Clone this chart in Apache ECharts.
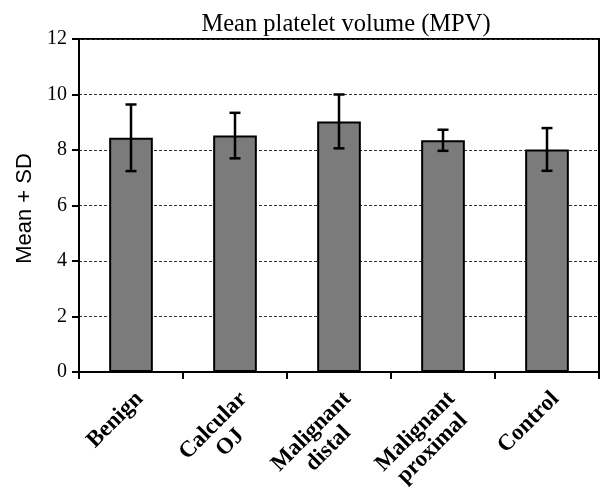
<!DOCTYPE html>
<html><head><meta charset="utf-8">
<script src="https://cdn.jsdelivr.net/npm/echarts@6/dist/echarts.min.js"></script>
<style>html,body{margin:0;padding:0;background:#fff}#c{width:604px;height:487px}</style>
</head><body><div id="c"></div>
<script>
var categories = ['Benign', 'Calcular\nOJ', 'Malignant\ndistal', 'Malignant\nproximal', 'Control'];
var means = [8.44, 8.52, 9.03, 8.35, 8.02];
var sds = [1.2, 0.82, 0.97, 0.38, 0.77];
var yTicks = [0, 2, 4, 6, 8, 10, 12];

var labelFont = 'bold 23px "Liberation Serif"';
var ctx = document.createElement('canvas').getContext('2d');
ctx.font = labelFont;
// each label is centred line by line, then shifted so its right edge sits at the tick
var xData = categories.map(function (c) {
  var w = Math.max.apply(null, c.split('\n').map(function (s) { return ctx.measureText(s).width; }));
  return { value: c, textStyle: { align: 'center', verticalAlign: 'top', padding: [0, w, 0, 0] } };
});

var chart = echarts.init(document.getElementById('c'));
var errData = means.map(function (m, i) { return [i, m - sds[i], m + sds[i]]; });
chart.setOption({
  animation: false,
  title: {
    text: 'Mean platelet volume (MPV)', left: 341, top: 7, textAlign: 'center',
    textStyle: { fontFamily: 'Liberation Serif', fontSize: 24.5, fontWeight: 'normal', color: '#000' }
  },
  grid: { left: 79, right: 5, top: 39, bottom: 115, outerBoundsMode: 'none', containLabel: false,
    show: true, borderColor: '#000', borderWidth: 2, backgroundColor: 'transparent' },
  xAxis: {
    type: 'category', data: xData,
    axisLine: { lineStyle: { color: '#000', width: 2 } },
    axisTick: { show: true, length: 7, lineStyle: { color: '#000', width: 2 } },
    axisLabel: { rotate: 45, interval: 0, margin: 15, hideOverlap: false,
      fontFamily: 'Liberation Serif', fontSize: 23, fontWeight: 'bold', color: '#000', lineHeight: 24 }
  },
  yAxis: {
    type: 'value', min: 0, max: 12, interval: 2,
    name: 'Mean + SD', nameLocation: 'middle', nameGap: 43,
    nameTextStyle: { fontFamily: 'Liberation Sans', fontSize: 22, color: '#000', padding: [0, 6, 0, 0] },
    axisLine: { show: true, lineStyle: { color: '#000', width: 2 } },
    axisTick: { show: true, length: 7, lineStyle: { color: '#000', width: 2 } },
    axisLabel: { fontFamily: 'Liberation Serif', fontSize: 20, color: '#000', margin: 12,
      formatter: function (v) { return yTicks.indexOf(v) >= 0 ? String(v) : ''; } },
    splitLine: { show: true, lineStyle: { color: '#333', type: [3, 2], width: 1 } }
  },
  series: [
    { type: 'bar', data: means, barWidth: '42%',
      itemStyle: { color: '#7b7b7b', borderColor: '#000', borderWidth: 2 } },
    { type: 'custom', data: errData, z: 10,
      renderItem: function (params, api) {
        var x = api.value(0);
        var lo = api.coord([x, api.value(1)]);
        var hi = api.coord([x, api.value(2)]);
        var w = 5.5;
        var st = { stroke: '#000', lineWidth: 2.5 };
        return { type: 'group', children: [
          { type: 'line', shape: { x1: lo[0], y1: lo[1], x2: hi[0], y2: hi[1] }, style: st },
          { type: 'line', shape: { x1: hi[0] - w, y1: hi[1], x2: hi[0] + w, y2: hi[1] }, style: st },
          { type: 'line', shape: { x1: lo[0] - w, y1: lo[1], x2: lo[0] + w, y2: lo[1] }, style: st }
        ] };
      } }
  ]
});
</script></body></html>
